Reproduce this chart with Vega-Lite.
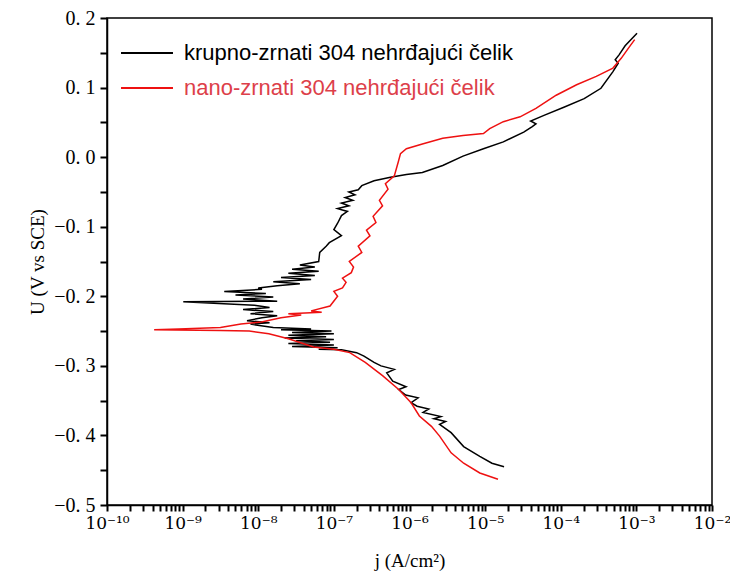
{
"$schema": "https://vega.github.io/schema/vega-lite/v6.json",
"width": 605, "height": 487,
"autosize": {"type": "none"},
"padding": {"left": 107, "top": 18, "right": 18, "bottom": 80},
"background": "white",
"config": {"view": {"stroke": "black", "strokeWidth": 1.5}},
"data": {"values": [
{"s":"A","j":1.78e-5,"U":-0.445},{"s":"A","j":1.23e-5,"U":-0.440},{"s":"A","j":8.5e-6,"U":-0.430},{"s":"A","j":5.2e-6,"U":-0.416},{"s":"A","j":3.55e-6,"U":-0.396},{"s":"A","j":2.5e-6,"U":-0.384},{"s":"A","j":3.0e-6,"U":-0.380},{"s":"A","j":2.1e-6,"U":-0.376},{"s":"A","j":2.6e-6,"U":-0.373},{"s":"A","j":1.51e-6,"U":-0.367},{"s":"A","j":1.8e-6,"U":-0.362},{"s":"A","j":1.26e-6,"U":-0.358},{"s":"A","j":1.05e-6,"U":-0.353},{"s":"A","j":1.3e-6,"U":-0.346},{"s":"A","j":8.9e-7,"U":-0.342},{"s":"A","j":7.2e-7,"U":-0.334},{"s":"A","j":9.0e-7,"U":-0.330},{"s":"A","j":6.0e-7,"U":-0.322},{"s":"A","j":5.0e-7,"U":-0.310},{"s":"A","j":6.3e-7,"U":-0.305},{"s":"A","j":4.2e-7,"U":-0.300},{"s":"A","j":3.4e-7,"U":-0.295},{"s":"A","j":2.5e-7,"U":-0.286},{"s":"A","j":2.0e-7,"U":-0.281},{"s":"A","j":1.26e-7,"U":-0.277},{"s":"A","j":6.3e-8,"U":-0.276},{"s":"A","j":1.12e-7,"U":-0.274},{"s":"A","j":2.8e-8,"U":-0.272},{"s":"A","j":1.0e-7,"U":-0.270},{"s":"A","j":2.5e-8,"U":-0.268},{"s":"A","j":8.9e-8,"U":-0.266},{"s":"A","j":3.16e-8,"U":-0.264},{"s":"A","j":1.0e-7,"U":-0.262},{"s":"A","j":2.24e-8,"U":-0.260},{"s":"A","j":7.9e-8,"U":-0.258},{"s":"A","j":2.5e-8,"U":-0.256},{"s":"A","j":1.0e-7,"U":-0.254},{"s":"A","j":2.8e-8,"U":-0.252},{"s":"A","j":9.3e-8,"U":-0.250},{"s":"A","j":2.0e-8,"U":-0.248},{"s":"A","j":5.0e-8,"U":-0.247},{"s":"A","j":1.58e-8,"U":-0.245},{"s":"A","j":7.9e-9,"U":-0.240},{"s":"A","j":1.41e-8,"U":-0.238},{"s":"A","j":7.1e-9,"U":-0.235},{"s":"A","j":1.12e-8,"U":-0.231},{"s":"A","j":1.78e-8,"U":-0.228},{"s":"A","j":7.9e-9,"U":-0.225},{"s":"A","j":1.58e-8,"U":-0.222},{"s":"A","j":6.3e-9,"U":-0.219},{"s":"A","j":1.41e-8,"U":-0.216},{"s":"A","j":8.9e-9,"U":-0.213},{"s":"A","j":1.02e-9,"U":-0.208},{"s":"A","j":1.78e-8,"U":-0.207},{"s":"A","j":6.3e-9,"U":-0.204},{"s":"A","j":1.58e-8,"U":-0.201},{"s":"A","j":5.0e-9,"U":-0.198},{"s":"A","j":1.26e-8,"U":-0.196},{"s":"A","j":3.55e-9,"U":-0.193},{"s":"A","j":1.12e-8,"U":-0.190},{"s":"A","j":1.0e-8,"U":-0.188},{"s":"A","j":1.78e-8,"U":-0.185},{"s":"A","j":3.55e-8,"U":-0.182},{"s":"A","j":1.58e-8,"U":-0.179},{"s":"A","j":5.0e-8,"U":-0.176},{"s":"A","j":2.0e-8,"U":-0.173},{"s":"A","j":5.6e-8,"U":-0.170},{"s":"A","j":2.5e-8,"U":-0.167},{"s":"A","j":6.3e-8,"U":-0.164},{"s":"A","j":2.8e-8,"U":-0.161},{"s":"A","j":5.6e-8,"U":-0.158},{"s":"A","j":3.55e-8,"U":-0.155},{"s":"A","j":6.3e-8,"U":-0.150},{"s":"A","j":6.5e-8,"U":-0.137},{"s":"A","j":7.9e-8,"U":-0.128},{"s":"A","j":8.7e-8,"U":-0.123},{"s":"A","j":1.26e-7,"U":-0.113},{"s":"A","j":1.0e-7,"U":-0.104},{"s":"A","j":1.12e-7,"U":-0.095},{"s":"A","j":1.26e-7,"U":-0.084},{"s":"A","j":1.51e-7,"U":-0.078},{"s":"A","j":1.12e-7,"U":-0.074},{"s":"A","j":1.58e-7,"U":-0.070},{"s":"A","j":1.26e-7,"U":-0.066},{"s":"A","j":1.78e-7,"U":-0.062},{"s":"A","j":1.41e-7,"U":-0.058},{"s":"A","j":1.9e-7,"U":-0.054},{"s":"A","j":1.58e-7,"U":-0.050},{"s":"A","j":2.1e-7,"U":-0.047},{"s":"A","j":2.34e-7,"U":-0.041},{"s":"A","j":3.4e-7,"U":-0.034},{"s":"A","j":5.6e-7,"U":-0.029},{"s":"A","j":9.1e-7,"U":-0.025},{"s":"A","j":1.48e-6,"U":-0.022},{"s":"A","j":2.75e-6,"U":-0.012},{"s":"A","j":5.1e-6,"U":0.0015},{"s":"A","j":9.5e-6,"U":0.012},{"s":"A","j":1.74e-5,"U":0.022},{"s":"A","j":3.24e-5,"U":0.036},{"s":"A","j":4.2e-5,"U":0.044},{"s":"A","j":4.7e-5,"U":0.048},{"s":"A","j":4.0e-5,"U":0.052},{"s":"A","j":6.0e-5,"U":0.060},{"s":"A","j":1.12e-4,"U":0.072},{"s":"A","j":2.04e-4,"U":0.084},{"s":"A","j":3.4e-4,"U":0.099},{"s":"A","j":4.9e-4,"U":0.123},{"s":"A","j":5.75e-4,"U":0.135},{"s":"A","j":5.25e-4,"U":0.140},{"s":"A","j":5.9e-4,"U":0.147},{"s":"A","j":7.1e-4,"U":0.160},{"s":"A","j":1.02e-3,"U":0.178},
{"s":"B","j":1.48e-5,"U":-0.463},{"s":"B","j":8.5e-6,"U":-0.454},{"s":"B","j":5.2e-6,"U":-0.440},{"s":"B","j":3.55e-6,"U":-0.425},{"s":"B","j":2.5e-6,"U":-0.401},{"s":"B","j":1.95e-6,"U":-0.387},{"s":"B","j":1.35e-6,"U":-0.372},{"s":"B","j":1.05e-6,"U":-0.353},{"s":"B","j":7.2e-7,"U":-0.334},{"s":"B","j":4.4e-7,"U":-0.314},{"s":"B","j":2.6e-7,"U":-0.295},{"s":"B","j":1.62e-7,"U":-0.281},{"s":"B","j":1.0e-7,"U":-0.276},{"s":"B","j":5.4e-8,"U":-0.273},{"s":"B","j":2.5e-8,"U":-0.261},{"s":"B","j":1.38e-8,"U":-0.254},{"s":"B","j":7.6e-9,"U":-0.250},{"s":"B","j":3.16e-9,"U":-0.249},{"s":"B","j":4.2e-10,"U":-0.248},{"s":"B","j":8.9e-10,"U":-0.247},{"s":"B","j":3.16e-9,"U":-0.245},{"s":"B","j":5.9e-9,"U":-0.240},{"s":"B","j":1.1e-8,"U":-0.237},{"s":"B","j":2.0e-8,"U":-0.231},{"s":"B","j":3.7e-8,"U":-0.227},{"s":"B","j":2.5e-8,"U":-0.225},{"s":"B","j":6.9e-8,"U":-0.223},{"s":"B","j":5.0e-8,"U":-0.221},{"s":"B","j":8.9e-8,"U":-0.214},{"s":"B","j":1.12e-7,"U":-0.200},{"s":"B","j":1.0e-7,"U":-0.193},{"s":"B","j":1.3e-7,"U":-0.188},{"s":"B","j":1.45e-7,"U":-0.180},{"s":"B","j":1.3e-7,"U":-0.174},{"s":"B","j":1.7e-7,"U":-0.166},{"s":"B","j":1.82e-7,"U":-0.158},{"s":"B","j":1.6e-7,"U":-0.150},{"s":"B","j":2.34e-7,"U":-0.137},{"s":"B","j":2.1e-7,"U":-0.128},{"s":"B","j":3.0e-7,"U":-0.113},{"s":"B","j":2.7e-7,"U":-0.105},{"s":"B","j":3.6e-7,"U":-0.094},{"s":"B","j":3.3e-7,"U":-0.085},{"s":"B","j":4.4e-7,"U":-0.070},{"s":"B","j":4.0e-7,"U":-0.062},{"s":"B","j":5.2e-7,"U":-0.046},{"s":"B","j":4.8e-7,"U":-0.038},{"s":"B","j":6.3e-7,"U":-0.027},{"s":"B","j":7.1e-7,"U":-0.007},{"s":"B","j":7.6e-7,"U":0.005},{"s":"B","j":9.1e-7,"U":0.012},{"s":"B","j":1.48e-6,"U":0.019},{"s":"B","j":2.75e-6,"U":0.027},{"s":"B","j":5.1e-6,"U":0.031},{"s":"B","j":9.5e-6,"U":0.034},{"s":"B","j":1.15e-5,"U":0.041},{"s":"B","j":1.74e-5,"U":0.051},{"s":"B","j":2.9e-5,"U":0.058},{"s":"B","j":4.7e-5,"U":0.070},{"s":"B","j":8.7e-5,"U":0.089},{"s":"B","j":1.62e-4,"U":0.104},{"s":"B","j":2.95e-4,"U":0.116},{"s":"B","j":4.9e-4,"U":0.128},{"s":"B","j":6.3e-4,"U":0.142},{"s":"B","j":7.9e-4,"U":0.157},{"s":"B","j":9.5e-4,"U":0.169}
]},
"transform": [{"window": [{"op": "row_number", "as": "i"}], "groupby": ["s"]}],
"mark": {"type": "line", "strokeWidth": 1.5},
"encoding": {
"order": {"field": "i", "type": "quantitative"},
"x": {"field": "j", "type": "quantitative",
 "scale": {"type": "log", "domain": [1e-10, 1e-2]},
 "axis": {
  "labelExpr": "abs(log(datum.value)/LN10 - round(log(datum.value)/LN10)) < 0.001 ? ['10⁻¹⁰','10⁻⁹','10⁻⁸','10⁻⁷','10⁻⁶','10⁻⁵','10⁻⁴','10⁻³','10⁻²'][round(log(datum.value)/LN10)+10] : ''",
  "tickSize": 6, "tickColor": "#000000", "tickWidth": 2,
  "title": "j (A/cm²)",
  "titleFont": "Liberation Serif", "titleFontSize": 19, "titleFontWeight": "normal", "titleColor": "black", "titlePadding": 20,
  "labelFont": "DejaVu Serif", "labelFontSize": 17, "labelColor": "black", "labelPadding": 4,
  "labelFlush": false, "labelOverlap": false,
  "domainColor": "black", "domainWidth": 1.5, "gridOpacity": 0
 }},
"y": {"field": "U", "type": "quantitative",
 "scale": {"domain": [-0.5, 0.2], "nice": false, "zero": false},
 "axis": {
  "labelExpr": "abs(datum.value*10 - round(datum.value*10)) < 0.001 ? replace(replace(format(datum.value, '.1f'), '-', '−'), '.', '. ') : ''",
  "tickSize": 7, "tickColor": "#000000", "tickWidth": 2,
  "title": "U (V vs SCE)",
  "titleFont": "Liberation Serif", "titleFontSize": 19, "titleFontWeight": "normal", "titleColor": "black", "titlePadding": 6,
  "labelFont": "Liberation Serif", "labelFontSize": 20, "labelColor": "black", "labelPadding": 5,
  "labelOverlap": false, "labelFlush": false,
  "domainColor": "black", "domainWidth": 1.5, "gridOpacity": 0
 }},
"color": {"field": "s", "type": "nominal",
 "scale": {"domain": ["A", "B"], "range": ["#000000", "#ee1111"]},
 "legend": {
  "orient": "none", "legendX": 13, "legendY": 24, "title": null,
  "labelExpr": "datum.value === 'A' ? 'krupno-zrnati 304 nehrđajući čelik' : 'nano-zrnati 304 nehrđajući čelik'",
  "symbolType": "stroke", "symbolSize": 2700, "symbolStrokeWidth": 1.8,
  "clipHeight": 22, "rowPadding": 13, "labelOffset": 10, "padding": 0,
  "labelFont": "Liberation Sans", "labelFontSize": 22, "labelLimit": 500,
  "encode": {"labels": {"update": {"fill": {"signal": "datum.value === 'B' ? '#dd3f4a' : '#000000'"}}}}
 }}
}
}
